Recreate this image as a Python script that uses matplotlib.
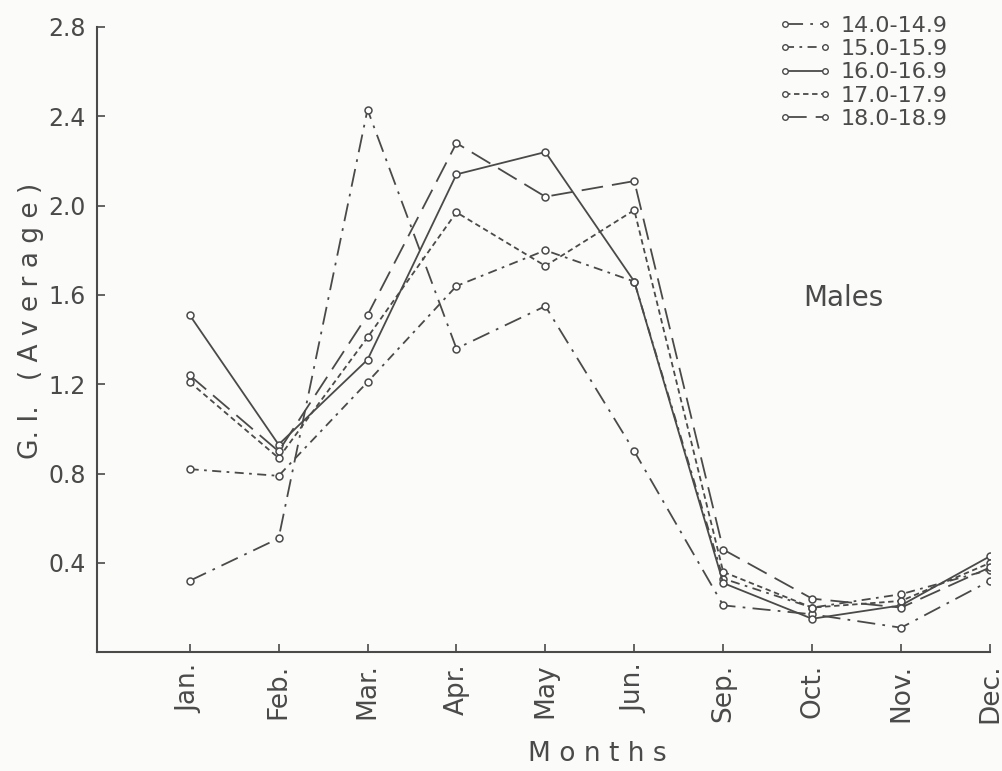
import matplotlib.pyplot as plt
from matplotlib.lines import Line2D

months = ['Jan.', 'Feb.', 'Mar.', 'Apr.', 'May', 'Jun.', 'Sep.', 'Oct.', 'Nov.', 'Dec.']

gi_14 = [0.32, 0.51, 2.43, 1.36, 1.55, 0.90, 0.21, 0.17, 0.11, 0.32]
gi_15 = [0.82, 0.79, 1.21, 1.64, 1.80, 1.66, 0.33, 0.20, 0.26, 0.37]
gi_16 = [1.51, 0.93, 1.31, 2.14, 2.24, 1.66, 0.31, 0.15, 0.21, 0.43]
gi_17 = [1.21, 0.87, 1.41, 1.97, 1.73, 1.98, 0.36, 0.20, 0.23, 0.40]
gi_18 = [1.24, 0.90, 1.51, 2.28, 2.04, 2.11, 0.46, 0.24, 0.20, 0.38]

labels = ['14.0-14.9', '15.0-15.9', '16.0-16.9', '17.0-17.9', '18.0-18.9']
styles = [(0, (10, 4, 1.5, 4)),
          (0, (5, 3, 1.5, 3)),
          '-',
          (0, (3, 2)),
          (0, (12, 5))]

ink = '#4a4a4a'
plt.rcParams['font.family'] = 'DejaVu Sans'

fig = plt.figure(figsize=(10.02, 7.71), dpi=100, facecolor='#fbfbf9')
ax = fig.add_axes([0.097, 0.154, 0.891, 0.811])
ax.set_facecolor('#fbfbf9')

x = list(range(1, len(months) + 1))
handles = []
for vals, lab, ls in zip([gi_14, gi_15, gi_16, gi_17, gi_18], labels, styles):
    ax.plot(x, vals, linestyle=ls, color=ink, lw=1.3, marker='o', ms=5,
            mfc='white', mec=ink, mew=1.1)
    handles.append(Line2D([0], [0], linestyle=ls, color=ink, lw=1.3, marker='o',
                          ms=4, mfc='white', mec=ink, mew=1.0, label=lab))

ax.set_xlim(-0.04, 10)
ax.set_ylim(0, 2.8)
ax.set_xticks(x)
ax.set_xticklabels(months, rotation=90, fontsize=19, color=ink)
ax.set_yticks([0.4, 0.8, 1.2, 1.6, 2.0, 2.4, 2.8])
ax.set_yticklabels(['0.4', '0.8', '1.2', '1.6', '2.0', '2.4', '2.8'], fontsize=17, color=ink)
ax.tick_params(axis='both', direction='in', length=6, width=1.2, color=ink, pad=8)
for s in ['top', 'right']:
    ax.spines[s].set_visible(False)
for s in ['left', 'bottom']:
    ax.spines[s].set_color(ink)
    ax.spines[s].set_linewidth(1.5)

ax.set_xlabel('M o n t h s', fontsize=19, color=ink)
ax.xaxis.set_label_coords(0.56, -0.142)
ax.set_ylabel('G. I.   ( A v e r a g e )', fontsize=19, color=ink)
ax.yaxis.set_label_coords(-0.06, 0.53)
ax.text(7.9, 1.55, 'Males', fontsize=20, color=ink)

leg = ax.legend(handles=handles, loc='upper right', bbox_to_anchor=(0.975, 1.05),
                frameon=False, fontsize=16, handlelength=2.4, handletextpad=0.4,
                labelspacing=0.15, numpoints=2, labelcolor=ink)

fig.savefig('out.png', dpi=100, facecolor=fig.get_facecolor())
